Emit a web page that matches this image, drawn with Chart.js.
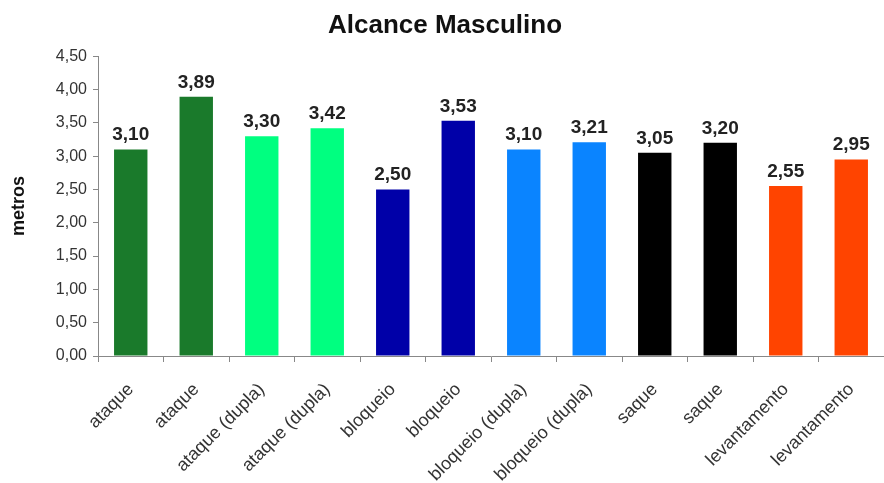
<!DOCTYPE html>
<html>
<head>
<meta charset="utf-8">
<script src="https://cdn.jsdelivr.net/npm/chart.js@4.4.1/dist/chart.umd.min.js"></script>
<style>
  html, body { margin: 0; padding: 0; background: #fff; }
  #wrap { position: relative; width: 884px; height: 483px; overflow: hidden; }
</style>
</head>
<body>
<div id="wrap"><canvas id="chart"></canvas></div>
<script>
// Categories along the x axis
const categories = [
  'ataque', 'ataque', 'ataque (dupla)', 'ataque (dupla)',
  'bloqueio', 'bloqueio', 'bloqueio (dupla)', 'bloqueio (dupla)',
  'saque', 'saque', 'levantamento', 'levantamento'
];

// Reach in metres for each category
const alcance = [3.10, 3.89, 3.30, 3.42, 2.50, 3.53, 3.10, 3.21, 3.05, 3.20, 2.55, 2.95];

// Bar colours, one per category
const barColors = [
  '#1a7a2b', '#1a7a2b', '#00ff80', '#00ff80',
  '#0000a8', '#0000a8', '#0a84ff', '#0a84ff',
  '#000000', '#000000', '#ff4400', '#ff4400'
];

// Y axis range and step
const yMin = 0;
const yMax = 4.5;
const yStep = 0.5;

const fmt = v => Number(v).toFixed(2).replace('.', ',');

// Draws the value above each bar
const valueLabels = {
  id: 'valueLabels',
  afterDatasetsDraw(chart) {
    const ctx = chart.ctx;
    const meta = chart.getDatasetMeta(0);
    const data = chart.data.datasets[0].data;
    ctx.save();
    ctx.font = 'bold 19px "Liberation Sans", Arial, sans-serif';
    ctx.fillStyle = '#222222';
    ctx.textAlign = 'center';
    ctx.textBaseline = 'alphabetic';
    meta.data.forEach((bar, i) => {
      ctx.fillText(fmt(data[i]), bar.x, bar.y - 9);
    });
    ctx.restore();
  }
};

new Chart(document.getElementById('chart'), {
  type: 'bar',
  data: {
    labels: categories,
    datasets: [{
      data: alcance,
      backgroundColor: barColors,
      borderWidth: 0,
      categoryPercentage: 1,
      barPercentage: 0.51
    }]
  },
  options: {
    responsive: true,
    maintainAspectRatio: false,
    animation: false,
    layout: { padding: { left: 0, right: -6, top: 0, bottom: 0 } },
    plugins: {
      legend: { display: false },
      tooltip: { enabled: false },
      title: {
        display: true,
        text: 'Alcance Masculino',
        color: '#111111',
        font: { family: '"Liberation Sans", Arial, sans-serif', size: 26, weight: 'bold', lineHeight: 1.2 },
        padding: { top: 10, bottom: 15 }
      }
    },
    scales: {
      x: {
        grid: { display: true, drawOnChartArea: false, drawTicks: true, tickLength: 6, color: '#888888', offset: true },
        border: { display: true, color: '#888888', width: 1 },
        ticks: {
          autoSkip: false,
          minRotation: 45,
          maxRotation: 45,
          color: '#333333',
          padding: 17,
          font: { family: '"Liberation Sans", Arial, sans-serif', size: 18 }
        },
        afterFit(scale) { scale.height = 127; }
      },
      y: {
        min: yMin,
        max: yMax,
        grid: { display: true, drawOnChartArea: false, drawTicks: true, tickLength: 5, color: '#888888' },
        border: { display: true, color: '#888888', width: 1 },
        ticks: {
          stepSize: yStep,
          color: '#333333',
          padding: 6,
          font: { family: '"Liberation Sans", Arial, sans-serif', size: 16 },
          callback: v => fmt(v)
        },
        title: {
          display: true,
          text: 'metros',
          color: '#111111',
          padding: { top: 8, bottom: 0 },
          font: { family: '"Liberation Sans", Arial, sans-serif', size: 18, weight: 'bold', lineHeight: 1.2 }
        },
        afterFit(scale) { scale.width = 98; }
      }
    }
  },
  plugins: [valueLabels]
});
</script>
</body>
</html>
